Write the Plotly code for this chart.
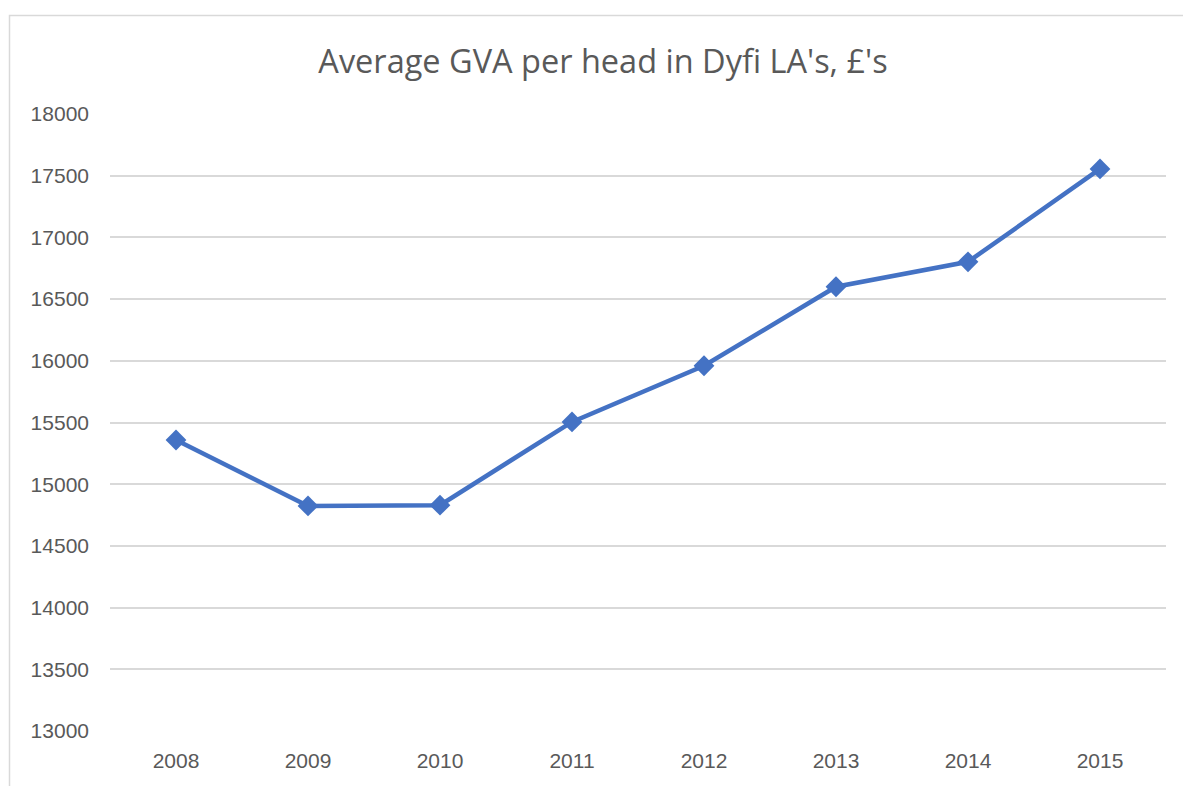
import plotly.graph_objects as go

years = ["2008", "2009", "2010", "2011", "2012", "2013", "2014", "2015"]
gva = [15358, 14824, 14830, 15505, 15960, 16600, 16802, 17555]
y_ticks = [13000, 13500, 14000, 14500, 15000, 15500, 16000, 16500, 17000, 17500, 18000]

W, H = 1183, 786
L, R, T, B = 110, 17, 114, 55
pw, ph = W - L - R, H - T - B

fig = go.Figure()
fig.add_trace(go.Scatter(
    x=years, y=gva, mode="lines+markers",
    line=dict(color="#4472C4", width=4.5),
    marker=dict(symbol="diamond", size=16, color="#4472C4"),
    showlegend=False, hoverinfo="x+y",
))

fig.update_layout(
    width=W, height=H,
    margin=dict(l=L, r=R, t=T, b=B, autoexpand=False),
    paper_bgcolor="white", plot_bgcolor="white",
    font=dict(family="Liberation Sans, Arial, sans-serif", color="#595959", size=21),
    title=dict(text="Average GVA per head in Dyfi LA's, £'s",
               x=603 / W, xanchor="center", y=1 - 62 / H, yanchor="middle",
               font=dict(size=32.5, color="#595959", family="Open Sans, Liberation Sans, sans-serif")),
    xaxis=dict(type="category", range=[-0.5, 7.5], showgrid=False, zeroline=False,
               showline=False, ticks="", ticklabelstandoff=15,
               tickfont=dict(size=21, color="#595959")),
    yaxis=dict(range=[13000, 18000], tickvals=y_ticks, ticktext=[str(v) for v in y_ticks],
               showgrid=True, gridcolor="#D9D9D9", gridwidth=1.5, zeroline=False,
               showline=False, ticks="", ticklabelstandoff=20,
               tickfont=dict(size=21, color="#595959")),
    shapes=[dict(type="rect", xref="paper", yref="paper",
                 x0=(9.5 - L) / pw, x1=(W + 20 - L) / pw,
                 y0=-(B + 20) / ph, y1=(H - B - 15.5) / ph,
                 line=dict(color="#D9D9D9", width=1.5), fillcolor="rgba(0,0,0,0)", layer="below")],
)

fig.write_html("out.html",
               config={"displayModeBar": False},
               post_script="document.body.style.margin='0';document.body.style.overflow='hidden';")
